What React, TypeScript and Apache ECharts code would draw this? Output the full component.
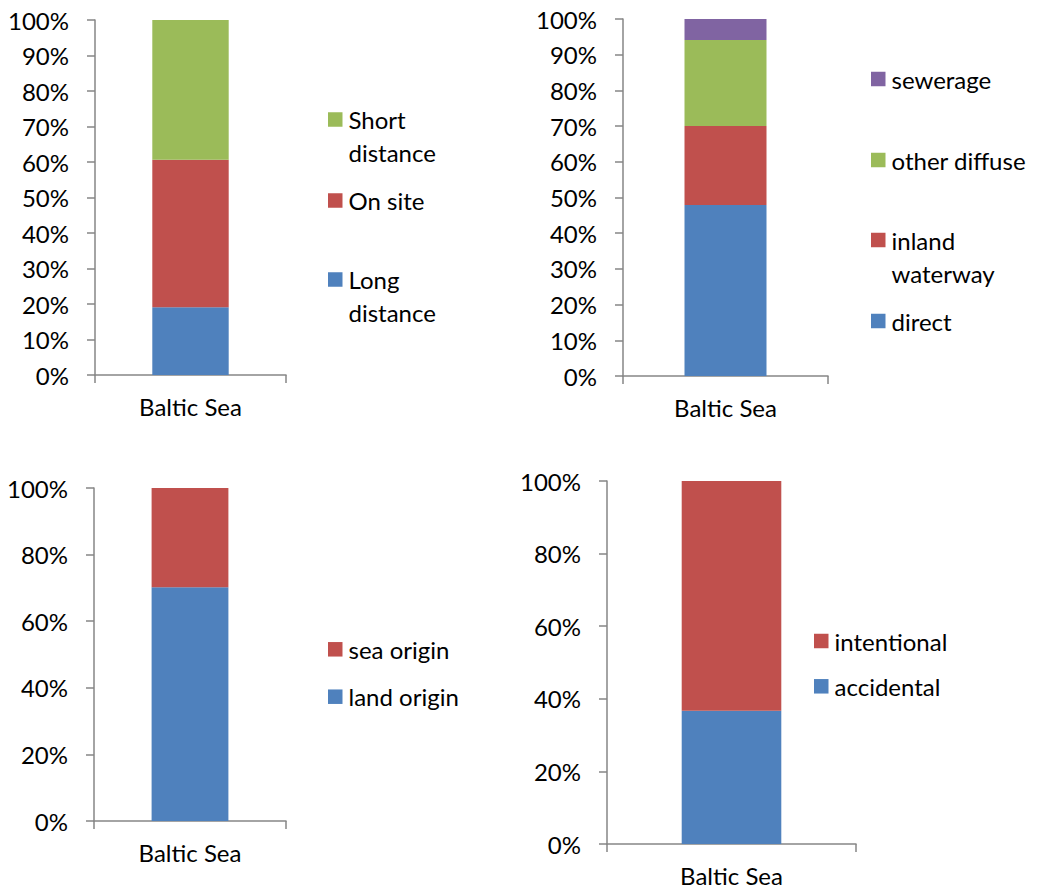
import React, { useEffect, useRef } from "react";
import * as echarts from "echarts";

// Shared category for all four panels
const category = ["Baltic Sea"];

// Panel 1: transport distance (bottom to top)
const distanceNames = ["Long\ndistance", "On site", "Short\ndistance"];
const distanceShares = [19.1, 41.5, 39.4];

// Panel 2: pathway (bottom to top)
const pathwayNames = ["direct", "inland\nwaterway", "other diffuse", "sewerage"];
const pathwayShares = [47.9, 22.1, 24.1, 5.9];

// Panel 3: origin (bottom to top)
const originNames = ["land origin", "sea origin"];
const originShares = [70.2, 29.8];

// Panel 4: intent (bottom to top)
const intentNames = ["accidental", "intentional"];
const intentShares = [36.7, 63.3];

const BLUE = "#4F81BD";
const RED = "#C0504D";
const GREEN = "#9BBB59";
const PURPLE = "#8064A2";
const AXIS = "#868686";
const FONT = "Lato";
const FS = 24;

const panels = [
  {
    names: distanceNames,
    values: distanceShares,
    colors: [BLUE, RED, GREEN],
    grid: { left: 95, top: 20, width: 191, height: 355 },
    interval: 10,
    legendX: 328,
    legendCenters: [279.5, 200.5, 119.5],
  },
  {
    names: pathwayNames,
    values: pathwayShares,
    colors: [BLUE, RED, GREEN, PURPLE],
    grid: { left: 623, top: 19, width: 205, height: 357 },
    interval: 10,
    legendX: 871,
    legendCenters: [321, 240, 160, 79],
  },
  {
    names: originNames,
    values: originShares,
    colors: [BLUE, RED],
    grid: { left: 94, top: 488, width: 192, height: 333 },
    interval: 20,
    legendX: 328,
    legendCenters: [696.7, 649.3],
  },
  {
    names: intentNames,
    values: intentShares,
    colors: [BLUE, RED],
    grid: { left: 607, top: 481, width: 249, height: 363 },
    interval: 20,
    legendX: 814,
    legendCenters: [686.3, 641],
  },
];

function buildLegend(p: (typeof panels)[number]) {
  const SQ = 14.5;
  const LH = 33;
  const children: any[] = [];
  p.names.forEach((name, i) => {
    const cy = p.legendCenters[i];
    children.push({
      type: "rect",
      shape: { x: p.legendX, y: cy - SQ / 2, width: SQ, height: SQ },
      style: { fill: p.colors[i] },
    });
    children.push({
      type: "text",
      x: p.legendX + SQ + 6,
      y: cy - LH / 2,
      style: {
        text: name,
        font: `${FS}px ${FONT}`,
        fill: "#000",
        lineHeight: LH,
        verticalAlign: "top",
        align: "left",
      },
    });
  });
  return { type: "group", children };
}

export default function App() {
  const ref = useRef<HTMLDivElement>(null);

  useEffect(() => {
    if (!ref.current) return;
    const chart = echarts.init(ref.current, null, { renderer: "svg" });

    const grid = panels.map((p) => ({ ...p.grid, containLabel: false }));

    const xAxis = panels.map((_, i) => ({
      type: "category",
      gridIndex: i,
      data: category,
      axisLine: { show: true, lineStyle: { color: AXIS, width: 1.5 } },
      axisTick: { show: true, length: 8, lineStyle: { color: AXIS, width: 1.5 } },
      axisLabel: { color: "#000", fontFamily: FONT, fontSize: FS, margin: 19 },
      splitLine: { show: false },
    }));

    const yAxis = panels.map((p, i) => ({
      type: "value",
      gridIndex: i,
      min: 0,
      max: 100,
      interval: p.interval,
      axisLine: { show: true, lineStyle: { color: AXIS, width: 1.5 } },
      axisTick: { show: true, length: 8, lineStyle: { color: AXIS, width: 1.5 } },
      axisLabel: {
        color: "#000",
        fontFamily: FONT,
        fontSize: FS,
        margin: 26,
        formatter: "{value}%",
      },
      splitLine: { show: false },
    }));

    const series: any[] = [];
    panels.forEach((p, i) => {
      p.names.forEach((name, j) => {
        series.push({
          type: "bar",
          name,
          stack: `panel${i}`,
          xAxisIndex: i,
          yAxisIndex: i,
          barWidth: "40%",
          data: [p.values[j]],
          itemStyle: { color: p.colors[j] },
        });
      });
    });

    chart.setOption({
      animation: false,
      backgroundColor: "#fff",
      grid,
      xAxis,
      yAxis,
      series,
      graphic: panels.map(buildLegend),
    });

    return () => chart.dispose();
  }, []);

  return (
    <div
      ref={ref}
      style={{ position: "absolute", left: 0, top: 0, width: 1040, height: 892 }}
    />
  );
}
